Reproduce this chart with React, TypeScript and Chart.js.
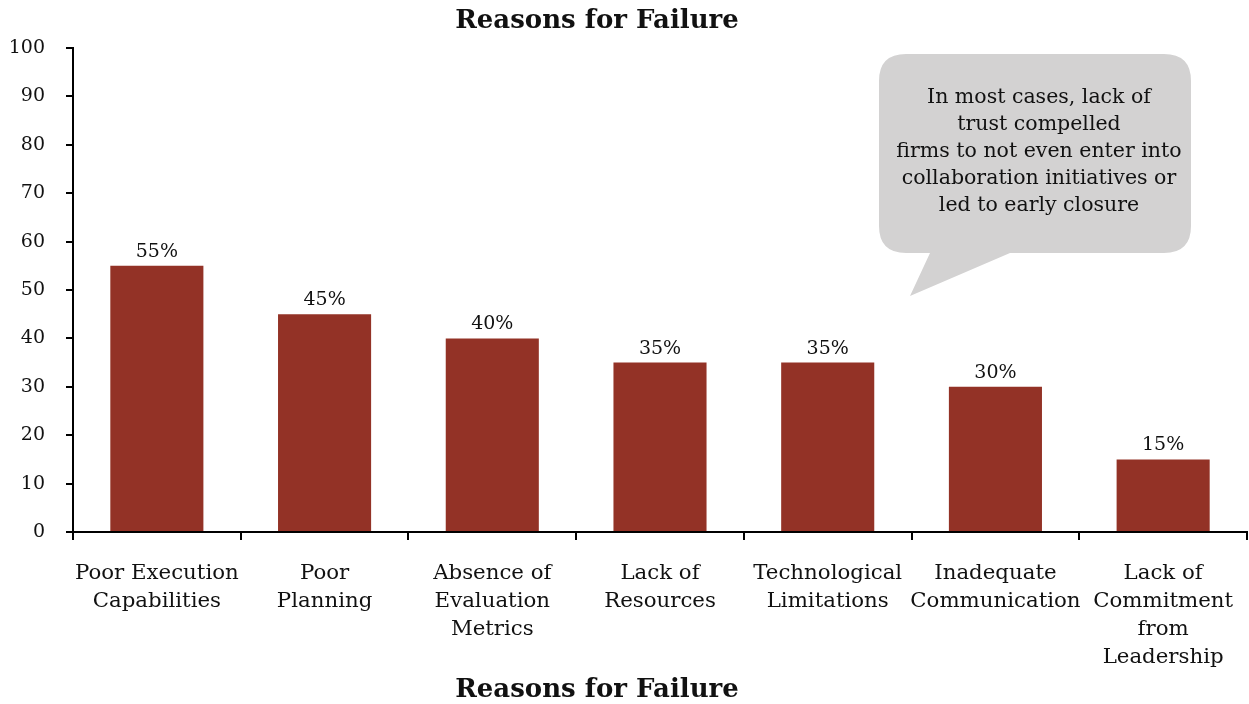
import React, { useEffect, useRef } from "react";
import { Chart, registerables } from "chart.js";

Chart.register(...registerables);

const categories: string[][] = [
  ["Poor Execution", "Capabilities"],
  ["Poor", "Planning"],
  ["Absence of", "Evaluation", "Metrics"],
  ["Lack of", "Resources"],
  ["Technological", "Limitations"],
  ["Inadequate", "Communication"],
  ["Lack of", "Commitment", "from", "Leadership"],
];
const failureValues: number[] = [55, 45, 40, 35, 35, 30, 15];
const yTicks: number[] = [0, 10, 20, 30, 40, 50, 60, 70, 80, 90, 100];
const calloutLines: string[] = [
  "In most cases, lack of",
  "trust compelled",
  "firms to not even enter into",
  "collaboration initiatives or",
  "led to early closure",
];
const chartTitle = "Reasons for Failure";
const xAxisTitle = "Reasons for Failure";

const FONT = "'DejaVu Serif', serif";

const valueLabelPlugin = {
  id: "valueLabels",
  afterDatasetsDraw(chart: any) {
    const ctx = chart.ctx;
    const meta = chart.getDatasetMeta(0);
    ctx.save();
    ctx.font = `19px ${FONT}`;
    ctx.fillStyle = "#111";
    ctx.textAlign = "center";
    ctx.textBaseline = "alphabetic";
    meta.data.forEach((bar: any, i: number) => {
      ctx.fillText(failureValues[i] + "%", bar.x, bar.y - 9);
    });
    ctx.restore();
  },
};

const titlesPlugin = {
  id: "titles",
  afterDraw(chart: any) {
    const ctx = chart.ctx;
    ctx.save();
    ctx.fillStyle = "#111";
    ctx.font = `bold 26px ${FONT}`;
    ctx.textAlign = "center";
    ctx.textBaseline = "middle";
    ctx.fillText(chartTitle, 597, 21);
    ctx.fillText(xAxisTitle, 597, 690);
    ctx.restore();
  },
};

const calloutPlugin = {
  id: "callout",
  afterDraw(chart: any) {
    const ctx = chart.ctx;
    const left = 879, top = 54, right = 1191, bottom = 253, r = 27;
    ctx.save();
    ctx.fillStyle = "#d3d2d2";
    ctx.beginPath();
    ctx.moveTo(left + r, top);
    ctx.lineTo(right - r, top);
    ctx.quadraticCurveTo(right, top, right, top + r);
    ctx.lineTo(right, bottom - r);
    ctx.quadraticCurveTo(right, bottom, right - r, bottom);
    ctx.lineTo(1010, bottom);
    ctx.lineTo(910, 296);
    ctx.lineTo(930, bottom);
    ctx.lineTo(left + r, bottom);
    ctx.quadraticCurveTo(left, bottom, left, bottom - r);
    ctx.lineTo(left, top + r);
    ctx.quadraticCurveTo(left, top, left + r, top);
    ctx.closePath();
    ctx.fill();
    ctx.fillStyle = "#111";
    ctx.font = `20.5px ${FONT}`;
    ctx.textAlign = "center";
    ctx.textBaseline = "middle";
    const cx = 1039;
    calloutLines.forEach((line, i) => {
      ctx.fillText(line, cx, 98 + i * 27);
    });
    ctx.restore();
  },
};

export default function App() {
  const ref = useRef<HTMLCanvasElement | null>(null);
  useEffect(() => {
    document.body.style.margin = "0";
    if (!ref.current) return;
    const chart = new Chart(ref.current, {
      type: "bar",
      data: {
        labels: categories,
        datasets: [
          {
            data: failureValues,
            backgroundColor: "#933226",
            barPercentage: 0.555,
            categoryPercentage: 1,
          },
        ],
      },
      options: {
        animation: false,
        responsive: false,
        maintainAspectRatio: false,
        layout: { padding: { top: 48, right: 2, left: 0, bottom: 0 } },
        plugins: {
          legend: { display: false },
          tooltip: { enabled: false },
          title: { display: false },
        },
        scales: {
          x: {
            offset: true,
            border: { display: true, color: "#000", width: 2 },
            grid: {
              display: true,
              drawOnChartArea: false,
              drawTicks: true,
              tickLength: 8,
              offset: true,
              color: "#000",
              lineWidth: 2,
            },
            ticks: {
              color: "#111",
              font: { family: FONT, size: 21.3, lineHeight: 1.32 },
              padding: 19,
              maxRotation: 0,
              autoSkip: false,
            },
            afterFit(scale: any) {
              scale.height = 172;
              scale.paddingLeft = 0;
              scale.paddingRight = 0;
            },
          },
          y: {
            min: 0,
            max: 100,
            afterBuildTicks(scale: any) {
              scale.ticks = yTicks.map((v) => ({ value: v }));
            },
            border: { display: true, color: "#000", width: 2 },
            grid: {
              display: true,
              drawOnChartArea: false,
              drawTicks: true,
              tickLength: 7,
              color: "#000",
              lineWidth: 2,
            },
            ticks: {
              color: "#111",
              font: { family: FONT, size: 19 },
              padding: 21,
            },
            afterFit(scale: any) {
              scale.width = 73;
            },
          },
        },
      },
      plugins: [valueLabelPlugin, calloutPlugin, titlesPlugin],
    });
    return () => chart.destroy();
  }, []);
  return (
    <div style={{ position: "absolute", left: 0, top: 0, width: 1249, height: 704, background: "#fff" }}>
      <canvas ref={ref} width={1249} height={704} style={{ width: 1249, height: 704 }} />
    </div>
  );
}
